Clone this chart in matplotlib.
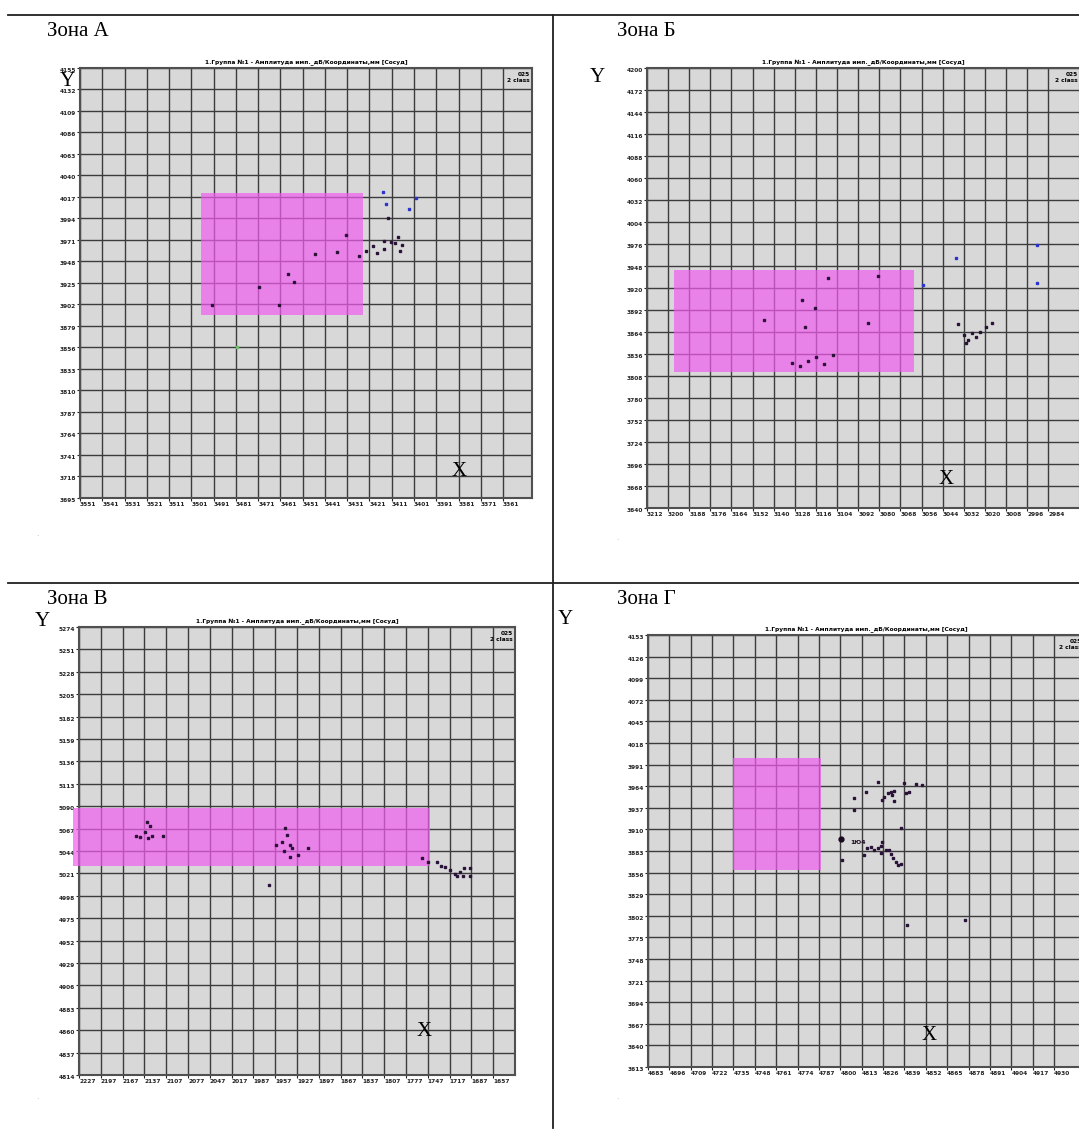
import numpy as np
import matplotlib.pyplot as plt
from matplotlib.patches import Rectangle

W, H = 1079, 1140
fig = plt.figure(figsize=(W / 100, H / 100), dpi=100)

TITLE = "1.Группа №1 - Амплитуда имп._дБ/Координаты,мм [Сосуд]"

# --- Зона А ---
a_xticks = [3551, 3541, 3531, 3521, 3511, 3501, 3491, 3481, 3471, 3461,
            3451, 3441, 3431, 3421, 3411, 3401, 3391, 3381, 3371, 3361]
a_yticks = [3695, 3718, 3741, 3764, 3787, 3810, 3833, 3856, 3879, 3902,
            3925, 3948, 3971, 3994, 4017, 4040, 4063, 4086, 4109, 4132, 4155]
a_rect = (3496.8, 3424.0, 3890.8, 4021.6)
a_dark_x = [3491.8, 3470.6, 3461.6, 3457.4, 3454.7, 3445.4, 3435.5, 3431.5, 3425.5, 3422.5,
            3419.5, 3417.4, 3414.4, 3414.4, 3411.4, 3409.4, 3408.2, 3406.3, 3407.3, 3412.5]
a_dark_y = [3901.5, 3920.4, 3901.5, 3934.6, 3926.1, 3956.0, 3958.5, 3976.0, 3954.2, 3959.2,
            3964.3, 3957.4, 3969.6, 3961.4, 3968.9, 3967.5, 3973.9, 3966.0, 3959.2, 3994.9]
a_blue_x = [3415.1, 3413.4, 3403.3, 3400.1]
a_blue_y = [4022.7, 4009.2, 4004.2, 4016.3]
a_green_x = [3480.6]
a_green_y = [3856.9]

# --- Зона Б ---
b_xticks = [3212, 3200, 3188, 3176, 3164, 3152, 3140, 3128, 3116, 3104,
            3092, 3080, 3068, 3056, 3044, 3032, 3020, 3008, 2996, 2984]
b_yticks = [3640, 3668, 3696, 3724, 3752, 3780, 3808, 3836, 3864, 3892,
            3920, 3948, 3976, 4004, 4032, 4060, 4088, 4116, 4144, 4172, 4200]
b_rect = (3196.6, 3060.2, 3813.1, 3942.9)
b_dark_x = [3145.5, 3123.9, 3116.5, 3122.1, 3109.1, 3080.6, 3086.3, 3129.5, 3125.0, 3120.4,
            3115.9, 3111.3, 3106.2, 3035.1, 3031.7, 3029.4, 3027.2, 3024.9, 3022.6, 3019.2,
            3015.8, 3030.6]
b_dark_y = [3879.3, 3904.7, 3894.5, 3870.4, 3932.7, 3935.3, 3875.5, 3824.5, 3820.7, 3827.1,
            3832.2, 3823.3, 3834.7, 3874.2, 3860.2, 3853.8, 3862.7, 3857.6, 3864.0, 3870.4,
            3875.5, 3850.0]
b_blue_x = [3055.0, 3036.3, 2990.2, 2990.2]
b_blue_y = [3923.8, 3958.2, 3974.7, 3926.4]

# --- Зона В ---
v_xticks = [2227, 2197, 2167, 2137, 2107, 2077, 2047, 2017, 1987, 1957,
            1927, 1897, 1867, 1837, 1807, 1777, 1747, 1717, 1687, 1657]
v_yticks = [4814, 4837, 4860, 4883, 4906, 4929, 4952, 4975, 4998, 5021,
            5044, 5067, 5090, 5113, 5136, 5159, 5182, 5205, 5228, 5251, 5274]
v_rect = (2235.0, 1744.0, 5028.6, 5088.2)
v_dark_x = [2133.4, 2129.3, 2136.2, 2143.1, 2132.1, 2126.6, 2148.6, 2111.4,
            1943.5, 1940.8, 1947.7, 1936.7, 1944.9, 1933.9, 1925.7, 1936.7, 1911.9, 1955.9, 1965.6,
            1755.0, 1746.8, 1734.4, 1728.9, 1723.4, 1716.5, 1709.6, 1702.7, 1697.2, 1689.0,
            1689.0, 1698.6, 1706.9]
v_dark_y = [5073.8, 5069.7, 5063.5, 5058.4, 5057.3, 5059.4, 5059.4, 5059.4,
            5067.6, 5060.4, 5053.2, 5050.2, 5044.0, 5047.1, 5039.9, 5037.9, 5047.1, 5050.2, 5009.1,
            5036.8, 5032.7, 5032.7, 5028.6, 5027.6, 5024.5, 5020.4, 5022.4, 5026.6, 5026.6,
            5018.3, 5018.3, 5018.3]

# --- Зона Г ---
g_xticks = [4683, 4696, 4709, 4722, 4735, 4748, 4761, 4774, 4787, 4800,
            4813, 4826, 4839, 4852, 4865, 4878, 4891, 4904, 4917, 4930]
g_yticks = [3613, 3640, 3667, 3694, 3721, 3748, 3775, 3802, 3829, 3856,
            3883, 3910, 3937, 3964, 3991, 4018, 4045, 4072, 4099, 4126, 4153]
g_rect = (4734.9, 4788.0, 3859.3, 3999.3)
g_dark_x = [4822.6, 4838.8, 4846.0, 4849.6, 4815.4, 4808.3, 4808.3, 4826.6, 4828.7, 4830.7,
            4832.7, 4831.7, 4825.6, 4832.7, 4839.8, 4841.5, 4836.8, 4801.2, 4814.4, 4816.5,
            4818.5, 4820.5, 4822.6, 4824.6, 4825.6, 4824.6, 4827.6, 4829.7, 4831.1, 4832.3,
            4833.7, 4835.1, 4836.8, 4840.5, 4876.0]
g_dark_y = [3969.6, 3967.6, 3966.8, 3965.9, 3957.1, 3948.9, 3934.3, 3951.0, 3955.1, 3957.1,
            3958.5, 3953.0, 3946.8, 3945.9, 3955.1, 3956.4, 3911.4, 3871.8, 3878.0, 3886.4,
            3887.6, 3884.3, 3886.4, 3889.3, 3894.6, 3881.0, 3884.3, 3884.3, 3879.3, 3873.9,
            3869.6, 3865.5, 3866.8, 3790.5, 3796.8]
g_big_x = [4800.2]
g_big_y = [3897.6]


def box(l, t, r, b):
    return [l / W, 1 - b / H, (r - l) / W, (b - t) / H]


def panel(rect_px, xt, yt, ncols, rect, pts_dark, pts_blue=None, pts_green=None):
    ax = fig.add_axes(box(*rect_px))
    ax.set_facecolor('#d8d8d8')
    step_x = xt[1] - xt[0]
    ax.set_xlim(xt[0], xt[0] + step_x * ncols)
    ax.set_ylim(yt[0], yt[-1])
    ax.set_xticks(xt)
    ax.set_xticklabels([str(v) for v in xt], fontsize=4.2, fontweight='bold', ha='left')
    ax.set_yticks(yt)
    ax.set_yticklabels([str(v) for v in yt], fontsize=4.2, fontweight='bold', va='top')
    ax.tick_params(length=2, width=0.8, pad=1, colors='#222222')
    ax.grid(True, color='#3c3c3c', lw=1.0, zorder=1)
    ax.set_axisbelow(True)
    for s in ax.spines.values():
        s.set_color('#505050')
        s.set_linewidth(1.5)
    x0, x1, y0, y1 = rect
    ax.add_patch(Rectangle((x0, y0), x1 - x0, y1 - y0, facecolor='#f05cf0',
                           alpha=0.7, edgecolor='none', zorder=3, clip_on=False))
    ax.plot(*pts_dark, 's', ms=2.1, color='#2a1238', zorder=4)
    if pts_blue is not None:
        ax.plot(*pts_blue, 's', ms=2.1, color='#2c34d0', zorder=4)
    if pts_green is not None:
        ax.plot(*pts_green, 's', ms=1.8, color='#70c070', zorder=4)
    ax.set_title(TITLE, fontsize=4.2, fontweight='bold', pad=3)
    ax.text(0.995, 0.99, "025\n2 class", transform=ax.transAxes, ha='right', va='top',
            fontsize=4.2, fontweight='bold', linespacing=1.1, clip_on=True)
    return ax


serif = 'Liberation Serif'

axA = panel((80, 68, 532, 498), a_xticks, a_yticks, 20.3, a_rect,
            (a_dark_x, a_dark_y), (a_blue_x, a_blue_y), (a_green_x, a_green_y))
axB = panel((647, 68, 1080, 508), b_xticks, b_yticks, 20.5, b_rect,
            (b_dark_x, b_dark_y), (b_blue_x, b_blue_y))
axV = panel((79, 627, 515, 1075), v_xticks, v_yticks, 20, v_rect,
            (v_dark_x, v_dark_y))
axG = panel((648, 635, 1084, 1067), g_xticks, g_yticks, 20.4, g_rect,
            (g_dark_x, g_dark_y))
axG.plot(g_big_x, g_big_y, 'o', ms=3.5, color='#1a0a20', zorder=5)
axG.text(4806, 3893, "1Ю4", fontsize=4.3, fontweight='bold', va='center', color='#1a0a20', zorder=5)

# separator lines
fig.add_artist(plt.Line2D([8 / W, 1], [1 - 15 / H, 1 - 15 / H], color='#202020', lw=1.3))
fig.add_artist(plt.Line2D([8 / W, 1], [1 - 583 / H, 1 - 583 / H], color='#202020', lw=1.3))
fig.add_artist(plt.Line2D([553 / W, 553 / W], [1 - 15 / H, 1 - 1128 / H], color='#202020', lw=1.3))

# zone titles
for label, x, y in [("Зона А", 47, 31), ("Зона Б", 617, 31), ("Зона В", 47, 599), ("Зона Г", 617, 599)]:
    fig.text(x / W, 1 - y / H, label, fontsize=15, family=serif, va='center', ha='left')

# axis letters
for label, x, y in [("Y", 67, 82), ("Y", 597, 78), ("Y", 42, 621), ("Y", 565, 619),
                    ("X", 459, 472), ("X", 946, 480), ("X", 424, 1032), ("X", 929, 1036)]:
    fig.text(x / W, 1 - y / H, label, fontsize=15, family=serif, va='center', ha='center')

# faint scan specks
for x, y in [(37, 537), (617, 541), (37, 1100), (617, 1100)]:
    fig.text(x / W, 1 - y / H, "·", fontsize=6, color='#b0b0b0', ha='center', va='center')

fig.savefig('out.png', dpi=100)
